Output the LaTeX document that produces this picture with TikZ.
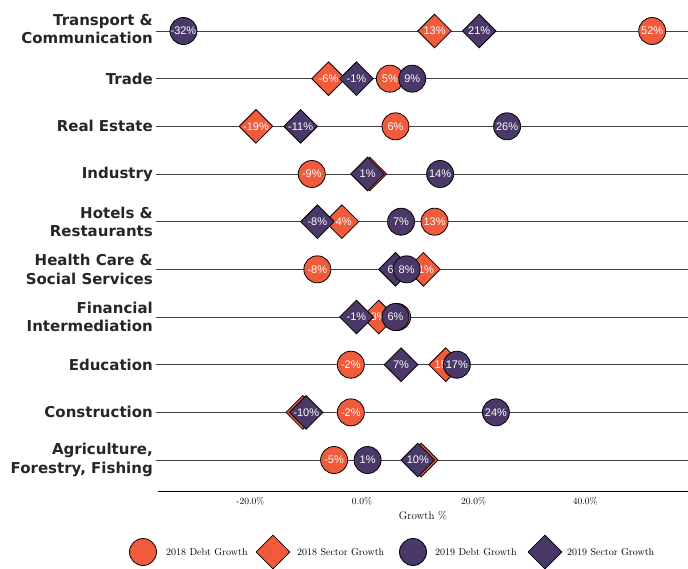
\documentclass[tikz,border=0pt]{standalone}
\usepackage{fontspec}
\usepackage{tikz}
\usetikzlibrary{shapes.geometric}
\newfontfamily\numfont{Liberation Sans}
\newfontfamily\catfont{DejaVu Sans}
\definecolor{orangeA}{HTML}{F15A3A}
\definecolor{purpleB}{HTML}{4A3968}
\tikzset{
  mtxt/.style={font=\numfont\fontsize{11}{11}\selectfont, text=white, inner sep=0pt},
  dot18/.style={circle, draw=black, line width=0.8pt, fill=orangeA, minimum size=27pt, inner sep=0pt},
  dia18/.style={diamond, aspect=1, draw=black, line width=0.8pt, fill=orangeA, minimum size=34pt, inner sep=0pt},
  dot19/.style={dot18, fill=purpleB},
  dia19/.style={dia18, fill=purpleB},
  catlbl/.style={anchor=east, align=right, inner sep=0pt, text=black!85, font=\catfont\bfseries\fontsize{15}{18.5}\selectfont},
  rowline/.style={draw=black!75, line width=0.9pt},
  ticklbl/.style={font=\fontsize{9.5}{9.5}\selectfont, inner sep=0pt},
  lgdtxt/.style={font=\fontsize{10}{10}\selectfont, anchor=west, inner sep=0pt}
}
\begin{document}
\begin{tikzpicture}[x=1pt,y=-1pt]
  \def\xo{362}; % position of 0%
  \def\xs{5.58}; % pixels per percent
  \def\dy{47.67};
  \useasboundingbox (0,0) rectangle (688,569);

  % category labels
  \node[catlbl] (cat0) at (153,29) {Transport \&\\Communication};
  \node[catlbl] (cat1) at (153,{31+1*\dy}) {Trade};
  \node[catlbl] (cat2) at (153,{31+2*\dy}) {Real Estate};
  \node[catlbl] (cat3) at (153,{31+3*\dy}) {Industry};
  \node[catlbl] (cat4) at (153,{31+4*\dy}) {Hotels \&\\Restaurants};
  \node[catlbl] (cat5) at (153,{31+5*\dy}) {Health Care \&\\Social Services};
  \node[catlbl] (cat6) at (153,{31+6*\dy}) {Financial\\Intermediation};
  \node[catlbl] (cat7) at (153,{31+7*\dy}) {Education};
  \node[catlbl] (cat8) at (153,{31+8*\dy}) {Construction};
  \node[catlbl] (cat9) at (153,{31+9*\dy}) {Agriculture,\\Forestry, Fishing};

  % row lines
  \foreach \i in {0,...,9}
    \draw[rowline] (156,{31+\i*\dy}) -- (688,{31+\i*\dy});

  % 2018 sector growth
  \foreach \r/\v/\t [count=\k] in {0/13/13, 1/-6/-6, 2/-19/-19, 3/1.4/1, 4/-3.6/-4, 5/11/11, 6/3/3, 7/15/15, 8/-10.6/-11, 9/10.6/11}
  {
    \node[dia18] (sec18\k) at ({\xo+\xs*(\v)},{31+\r*\dy}) {};
    \node[mtxt] (sec18t\k) at (sec18\k) {\t\%};
  }
  % 2018 debt growth
  \foreach \r/\v/\t [count=\k] in {0/52/52, 1/5/5, 2/6/6, 3/-9/-9, 4/13/13, 5/-8/-8, 6/6.3/6, 7/-2/-2, 8/-2/-2, 9/-5/-5}
  {
    \node[dot18] (debt18\k) at ({\xo+\xs*(\v)},{31+\r*\dy}) {};
    \node[mtxt] (debt18t\k) at (debt18\k) {\t\%};
  }
  % 2019 sector growth
  \foreach \r/\v/\t [count=\k] in {0/21/21, 1/-1/-1, 2/-11/-11, 3/1/1, 4/-8/-8, 5/6/6, 6/-1/-1, 7/7/7, 8/-10/-10, 9/10/10}
  {
    \node[dia19] (sec19\k) at ({\xo+\xs*(\v)},{31+\r*\dy}) {};
    \node[mtxt] (sec19t\k) at (sec19\k) {\t\%};
  }
  % 2019 debt growth
  \foreach \r/\v/\t [count=\k] in {0/-32/-32, 1/9/9, 2/26/26, 3/14/14, 4/7/7, 5/8/8, 6/6/6, 7/17/17, 8/24/24, 9/1/1}
  {
    \node[dot19] (debt19\k) at ({\xo+\xs*(\v)},{31+\r*\dy}) {};
    \node[mtxt] (debt19t\k) at (debt19\k) {\t\%};
  }

  % x axis
  \draw[black, line width=1pt] (158,491) -- (688,491);
  \foreach \v [count=\k] in {-20,0,20,40}
    \node[ticklbl] (tick\k) at ({\xo+\xs*(\v)},501) {\v.0\%};
  \node[font=\fontsize{11}{11}\selectfont, inner sep=0pt] (axtitle) at (423,516) {Growth \%};

  % legend
  \node[dot18] (lgd1) at (143,552) {};
  \node[lgdtxt] (lgd1t) at (166,552) {2018 Debt Growth};
  \node[dia18] (lgd2) at (273,552) {};
  \node[lgdtxt] (lgd2t) at (297,552) {2018 Sector Growth};
  \node[dot19] (lgd3) at (413,552) {};
  \node[lgdtxt] (lgd3t) at (435,552) {2019 Debt Growth};
  \node[dia19] (lgd4) at (545,552) {};
  \node[lgdtxt] (lgd4t) at (567,552) {2019 Sector Growth};
\end{tikzpicture}
\end{document}
